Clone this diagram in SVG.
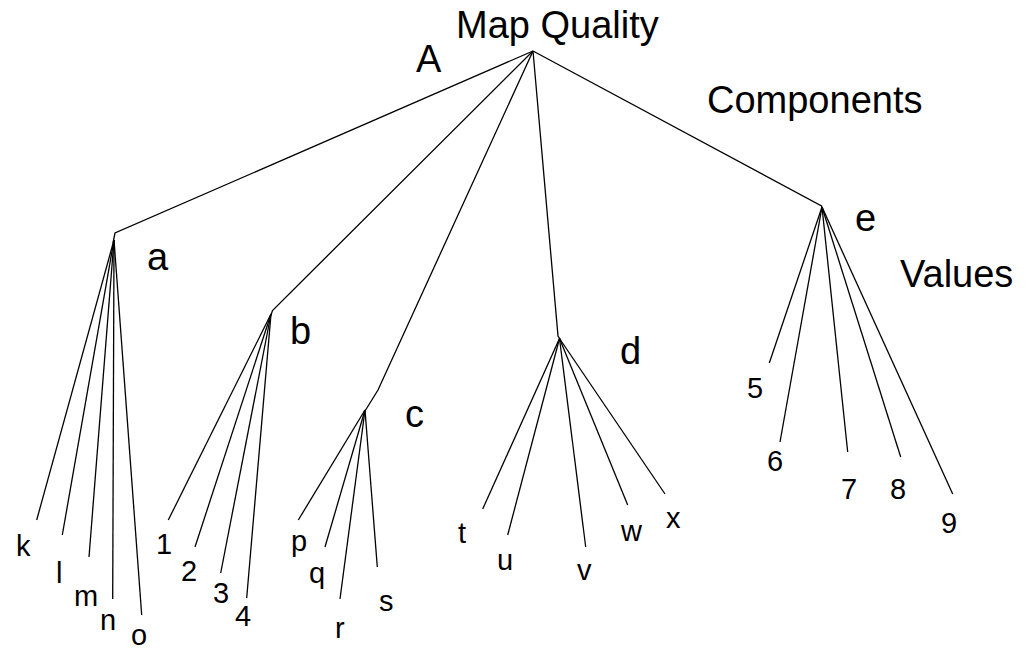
<svg xmlns="http://www.w3.org/2000/svg" width="1028" height="650" viewBox="0 0 1028 650">
<style>
.e{fill:none;stroke:#000;stroke-width:1.3;stroke-linejoin:miter}
.big{font-family:"Liberation Sans",Arial,sans-serif;font-size:38px;fill:#000}
.sm{font-family:"Liberation Sans",Arial,sans-serif;font-size:29px;fill:#000}
</style>
<rect width="1028" height="650" fill="#fff"/>
<g id="connectors">
<polyline class="e" points="533,51 115,233 113,243"/>
<polyline class="e" points="533,51 272.5,310.5 271,315"/>
<polyline class="e" points="533,51 378,390 365,411"/>
<polyline class="e" points="533,51 558,336 560,339"/>
<polyline class="e" points="533,51 821.5,206 822,208"/>
<g id="fan-a">
<line class="e" x1="114" y1="240" x2="36.7" y2="520"/>
<line class="e" x1="114" y1="240" x2="62.3" y2="535"/>
<line class="e" x1="114" y1="240" x2="89" y2="557"/>
<line class="e" x1="114" y1="240" x2="112.7" y2="599"/>
<line class="e" x1="114" y1="240" x2="141.7" y2="615"/>
</g>
<g id="fan-b">
<line class="e" x1="271" y1="314" x2="168.3" y2="520"/>
<line class="e" x1="271" y1="314" x2="195" y2="547"/>
<line class="e" x1="271" y1="314" x2="220.7" y2="573"/>
<line class="e" x1="271" y1="314" x2="246.7" y2="598"/>
</g>
<g id="fan-c">
<line class="e" x1="365" y1="410" x2="298.3" y2="520"/>
<line class="e" x1="365" y1="410" x2="325" y2="547"/>
<line class="e" x1="365" y1="410" x2="340" y2="599"/>
<line class="e" x1="365" y1="410" x2="377.3" y2="567"/>
</g>
<g id="fan-d">
<line class="e" x1="559.5" y1="338.5" x2="482.7" y2="509"/>
<line class="e" x1="559.5" y1="338.5" x2="507.7" y2="535"/>
<line class="e" x1="559.5" y1="338.5" x2="585.7" y2="547"/>
<line class="e" x1="559.5" y1="338.5" x2="627.7" y2="505"/>
<line class="e" x1="559.5" y1="338.5" x2="665" y2="494"/>
</g>
<g id="fan-e">
<line class="e" x1="822" y1="207" x2="769.3" y2="363"/>
<line class="e" x1="822" y1="207" x2="780" y2="442"/>
<line class="e" x1="822" y1="207" x2="847.7" y2="452"/>
<line class="e" x1="822" y1="207" x2="900.7" y2="457"/>
<line class="e" x1="822" y1="207" x2="952.7" y2="494"/>
</g>
</g>
<g id="node-root"><text class="big" x="456" y="38">Map Quality</text></g>
<g id="label-A"><text class="big" x="416" y="72">A</text></g>
<g id="label-components"><text class="big" x="707" y="113">Components</text></g>
<g id="label-values"><text class="big" x="900" y="287">Values</text></g>
<g id="node-a"><text class="big" x="147" y="270">a</text></g>
<g id="node-b"><text class="big" x="290" y="344">b</text></g>
<g id="node-c"><text class="big" x="405" y="427">c</text></g>
<g id="node-d"><text class="big" x="620" y="364">d</text></g>
<g id="node-e"><text class="big" x="855" y="231">e</text></g>
<g id="leaf-k"><text class="sm" x="16" y="556">k</text></g>
<g id="leaf-l"><text class="sm" x="56" y="583">l</text></g>
<g id="leaf-m"><text class="sm" x="74" y="606">m</text></g>
<g id="leaf-n"><text class="sm" x="100" y="630">n</text></g>
<g id="leaf-o"><text class="sm" x="131" y="645">o</text></g>
<g id="leaf-1"><text class="sm" x="156" y="554">1</text></g>
<g id="leaf-2"><text class="sm" x="181" y="581">2</text></g>
<g id="leaf-3"><text class="sm" x="213" y="603">3</text></g>
<g id="leaf-4"><text class="sm" x="235" y="626">4</text></g>
<g id="leaf-p"><text class="sm" x="291" y="551">p</text></g>
<g id="leaf-q"><text class="sm" x="309" y="583">q</text></g>
<g id="leaf-r"><text class="sm" x="335" y="638">r</text></g>
<g id="leaf-s"><text class="sm" x="379" y="611">s</text></g>
<g id="leaf-t"><text class="sm" x="458" y="543">t</text></g>
<g id="leaf-u"><text class="sm" x="497" y="570">u</text></g>
<g id="leaf-v"><text class="sm" x="577" y="580">v</text></g>
<g id="leaf-w"><text class="sm" x="621" y="541">w</text></g>
<g id="leaf-x"><text class="sm" x="666" y="528">x</text></g>
<g id="leaf-5"><text class="sm" x="747" y="398">5</text></g>
<g id="leaf-6"><text class="sm" x="767" y="471">6</text></g>
<g id="leaf-7"><text class="sm" x="841" y="499">7</text></g>
<g id="leaf-8"><text class="sm" x="890" y="499">8</text></g>
<g id="leaf-9"><text class="sm" x="941" y="533">9</text></g>
</svg>
